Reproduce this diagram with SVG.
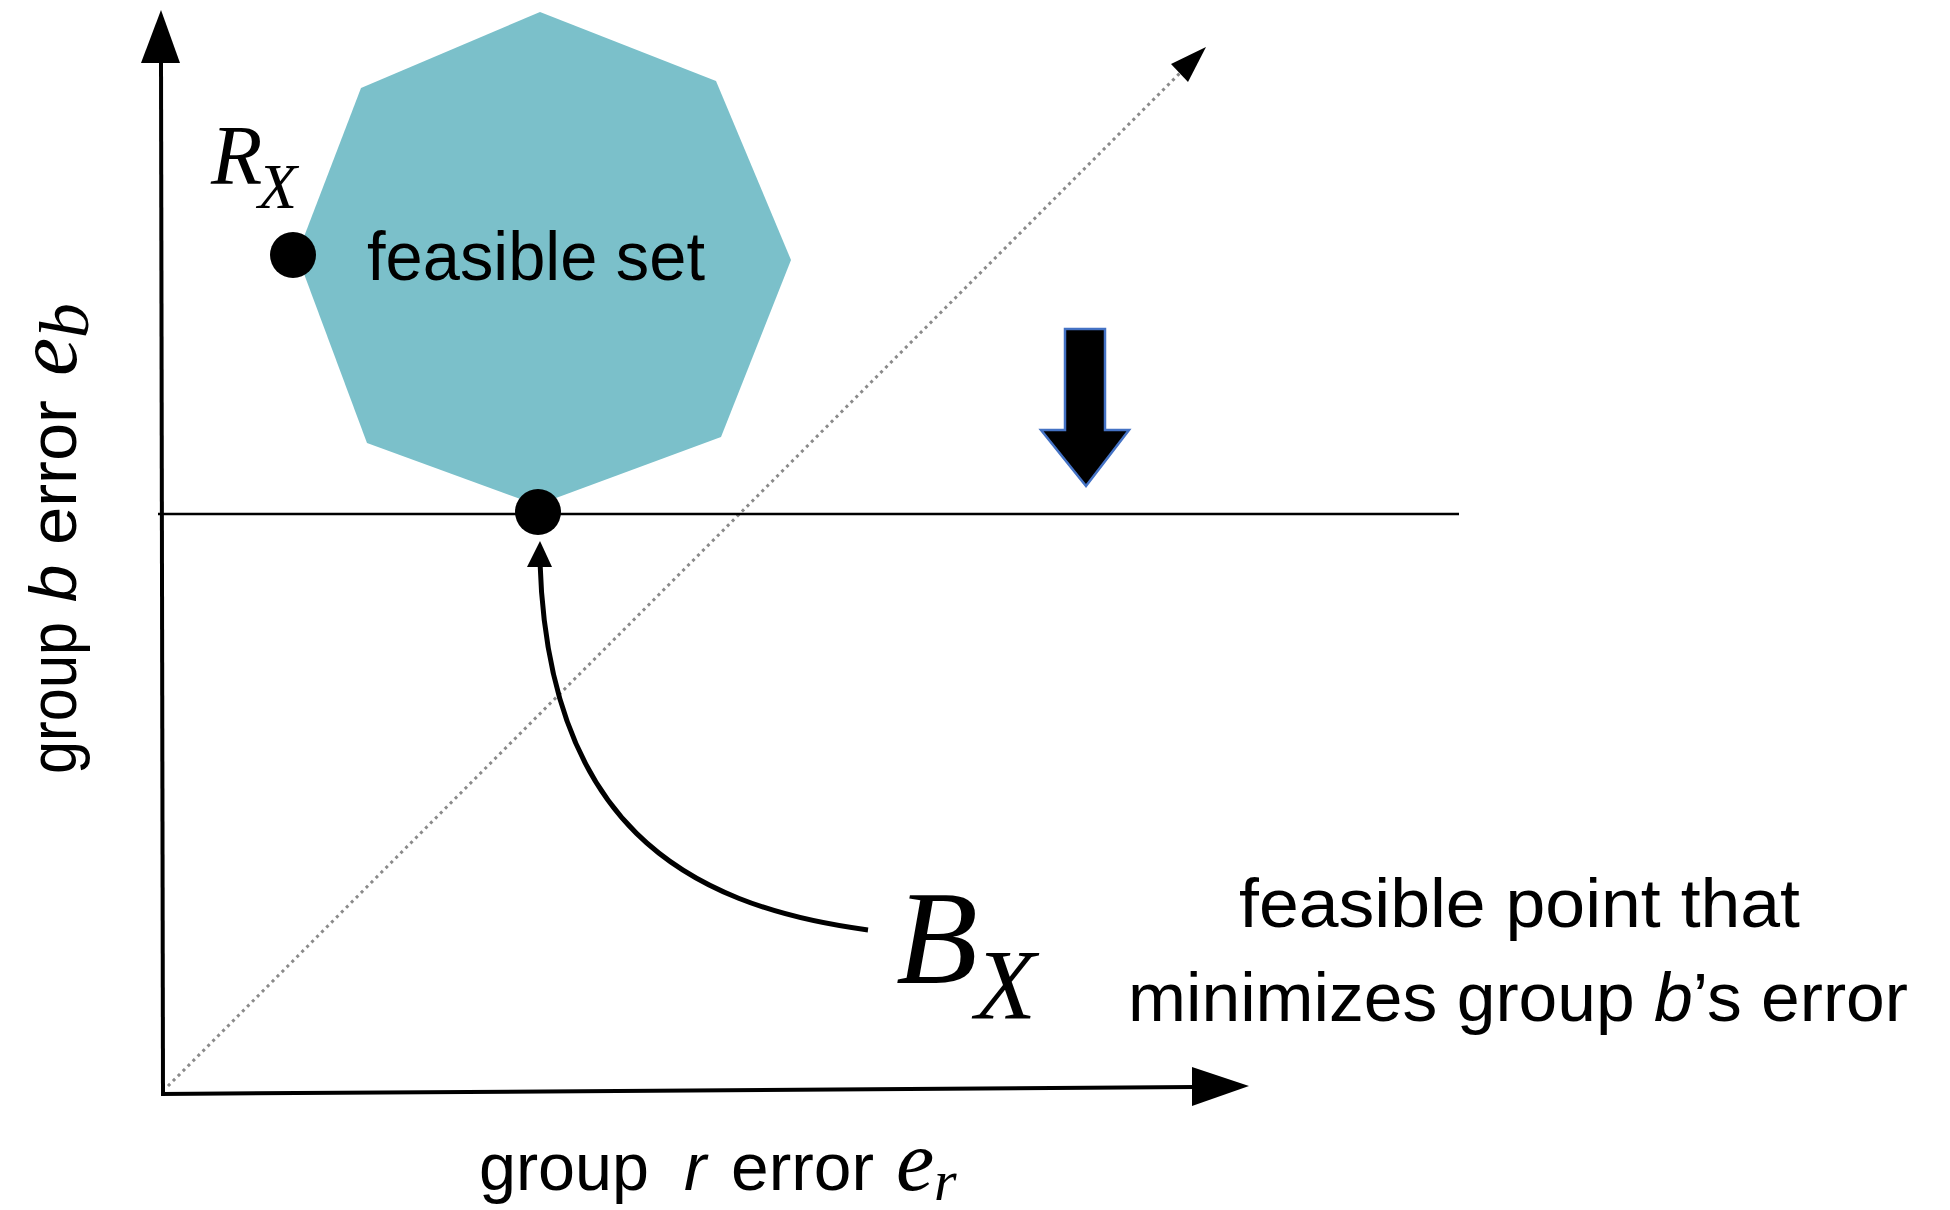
<svg xmlns="http://www.w3.org/2000/svg" width="1950" height="1210" viewBox="0 0 1950 1210">
<style>
.axis{stroke:#000;stroke-width:4;fill:none}
.head{fill:#000;stroke:none}
.diag{stroke:#8a8a8a;stroke-width:3;stroke-dasharray:3 4;fill:none}
.hline{stroke:#000;stroke-width:2.5;fill:none}
.curve{stroke:#000;stroke-width:5;fill:none}
.dot{fill:#000}
.sans{font-family:"Liberation Sans",Arial,sans-serif;fill:#000}
.math{font-family:"Liberation Serif","Times New Roman",serif;font-style:italic;fill:#000}
</style>
<rect width="1950" height="1210" fill="#fff"/>
<g id="feasible-set">
<polygon points="540,12 716,81 791,260 721,437 537,505 367,443 297,255 361,88" fill="#7bc0ca"/>
<text class="sans" x="367" y="280" font-size="68" textLength="338" lengthAdjust="spacingAndGlyphs">feasible set</text>
</g>
<g id="connectors">
<line class="diag" x1="168" y1="1086" x2="1190" y2="63"/>
<polygon class="head" points="1206,47 1171,64 1188,82"/>
<line class="hline" x1="158" y1="514" x2="1459" y2="514"/>
<line class="axis" x1="161" y1="60" x2="163" y2="1094"/>
<polygon class="head" points="161,10 141,63 180,63"/>
<line class="axis" x1="161" y1="1094" x2="1195" y2="1087"/>
<polygon class="head" points="1249,1086 1192,1067 1192,1106"/>
<path class="curve" d="M 868,930 C 680,905 548,820 540,562"/>
<polygon class="head" points="540,541 527,567 552,567"/>
</g>
<g id="down-arrow">
<polygon points="1065,329 1105,329 1105,430 1129,430 1086,486 1041,430 1065,430" fill="#000" stroke="#4472c4" stroke-width="2.5"/>
</g>
<g id="point-R">
<circle class="dot" cx="293" cy="255" r="23"/>
<text class="math" x="211" y="184" font-size="84">R</text>
<text class="math" x="258" y="208" font-size="64">X</text>
</g>
<g id="point-B">
<circle class="dot" cx="538" cy="512" r="23"/>
<text class="math" x="896" y="983" font-size="134">B</text>
<text class="math" x="975" y="1018" font-size="100">X</text>
</g>
<g id="description">
<text class="sans" x="1239" y="927" font-size="68" textLength="561" lengthAdjust="spacingAndGlyphs">feasible point that</text>
<text class="sans" x="1128" y="1021" font-size="68" textLength="780" lengthAdjust="spacingAndGlyphs">minimizes group <tspan font-style="italic">b</tspan>’s error</text>
</g>
<g id="x-label">
<text class="sans" x="479" y="1190" font-size="67" textLength="170" lengthAdjust="spacingAndGlyphs">group</text>
<text class="sans" x="684" y="1190" font-size="67" font-style="italic">r</text>
<text class="sans" x="731" y="1190" font-size="67" textLength="143" lengthAdjust="spacingAndGlyphs">error</text>
<text class="math" x="896" y="1190" font-size="86">e</text>
<text class="math" x="934" y="1200" font-size="58">r</text>
</g>
<g id="y-label" transform="translate(76,774) rotate(-90)">
<text class="sans" x="0" y="0" font-size="67" textLength="152" lengthAdjust="spacingAndGlyphs">group</text>
<text class="sans" x="172" y="0" font-size="67" font-style="italic">b</text>
<text class="sans" x="229" y="0" font-size="67" textLength="145" lengthAdjust="spacingAndGlyphs">error</text>
<text class="math" x="398" y="0" font-size="86">e</text>
<text class="math" x="436" y="12" font-size="70">b</text>
</g>
</svg>
